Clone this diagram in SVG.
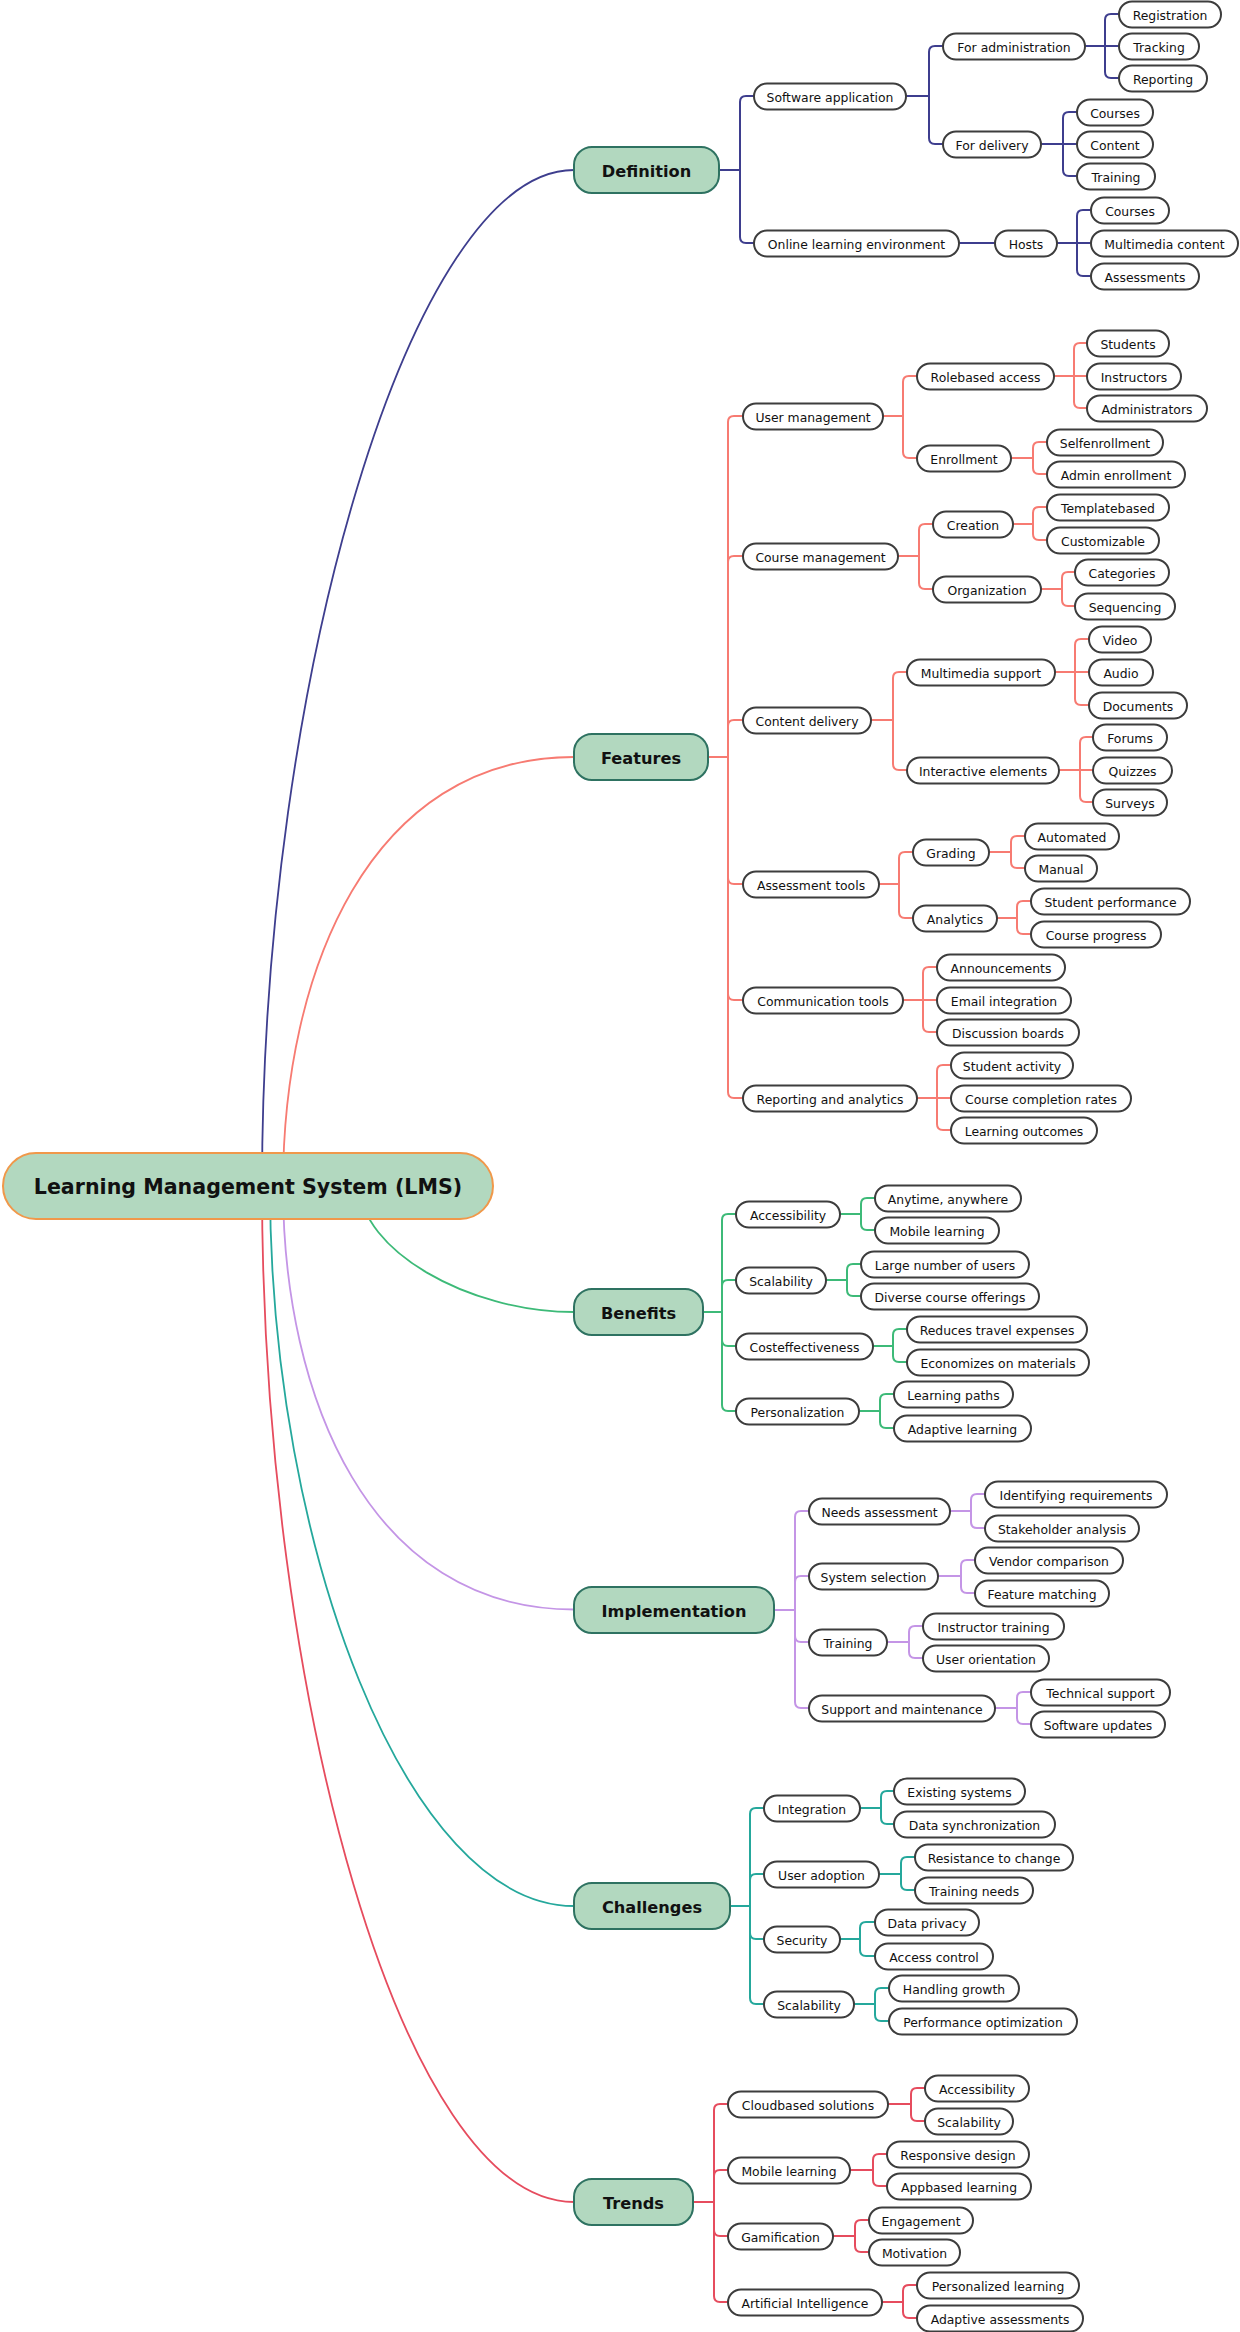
<svg xmlns="http://www.w3.org/2000/svg" width="1240" height="2332" viewBox="0 0 1240 2332">
<style>
  .leaf rect{fill:#ffffff;stroke:#3d3d3d;stroke-width:2}
  .leaf text{font-family:"DejaVu Sans",sans-serif;font-size:12.4px;fill:#111;text-anchor:middle;transform:translateY(1px)}
  .main rect{fill:#b2d8bf;stroke:#2e7261;stroke-width:2}
  .main text{font-family:"DejaVu Sans",sans-serif;font-weight:bold;font-size:16.2px;fill:#111;text-anchor:middle}
  .root rect{fill:#b2d8bf;stroke:#f0984a;stroke-width:2}
  .root text{font-family:"DejaVu Sans",sans-serif;font-weight:bold;font-size:20.6px;fill:#111;text-anchor:middle}
  #connectors path{fill:none;stroke-width:2}
  #connectors .c-root path{stroke-width:1.8}
  .def{stroke:#3e3e8e}
  .feat{stroke:#f77b72}
  .ben{stroke:#3dba78}
  .impl{stroke:#c495e6}
  .chal{stroke:#25a89c}
  .trend{stroke:#e64c5e}
</style>
<rect width="1240" height="2332" fill="#ffffff"/>
<g id="connectors">
  <g class="c-root">
    <path class="def" d="M262 1186 C262 678 412 170 574 170"/>
    <path class="feat" d="M283 1186 C283 971.5 370 757 574 757"/>
    <path class="ben" d="M360 1186 C360 1249 467 1312 574 1312"/>
    <path class="impl" d="M283 1186 C283 1397.75 370 1609.5 574 1609.5"/>
    <path class="chal" d="M270 1186 C270 1546 407 1906 574 1906"/>
    <path class="trend" d="M262 1186 C262 1694 402 2202 574 2202"/>
  </g>
  <g class="def">
    <path d="M719 170 H740 V102 Q740 96 746 96 H754"/>
    <path d="M719 170 H740 V237 Q740 243 746 243 H754"/>
    <path d="M906 96 H929 V52 Q929 46 935 46 H943"/>
    <path d="M906 96 H929 V138 Q929 144 935 144 H943"/>
    <path d="M1085 46 H1105 V20 Q1105 14 1111 14 H1119"/>
    <path d="M1085 46 H1119"/>
    <path d="M1085 46 H1105 V72 Q1105 78 1111 78 H1119"/>
    <path d="M1041 144 H1063 V118 Q1063 112 1069 112 H1077"/>
    <path d="M1041 144 H1077"/>
    <path d="M1041 144 H1063 V170 Q1063 176 1069 176 H1077"/>
    <path d="M959 243 H995"/>
    <path d="M1057 243 H1077 V216 Q1077 210 1083 210 H1091"/>
    <path d="M1057 243 H1091"/>
    <path d="M1057 243 H1077 V270 Q1077 276 1083 276 H1091"/>
  </g>
  <g class="feat">
    <path d="M708 757 H728 V422 Q728 416 734 416 H743"/>
    <path d="M708 757 H728 V562 Q728 556 734 556 H743"/>
    <path d="M708 757 H728 V726 Q728 720 734 720 H743"/>
    <path d="M708 757 H728 V878 Q728 884 734 884 H743"/>
    <path d="M708 757 H728 V994 Q728 1000 734 1000 H743"/>
    <path d="M708 757 H728 V1092 Q728 1098 734 1098 H743"/>
    <path d="M883 416 H903 V382 Q903 376 909 376 H917"/>
    <path d="M883 416 H903 V452 Q903 458 909 458 H917"/>
    <path d="M1054 376 H1074 V349 Q1074 343 1080 343 H1087"/>
    <path d="M1054 376 H1087"/>
    <path d="M1054 376 H1074 V402 Q1074 408 1080 408 H1087"/>
    <path d="M1011 458 H1033 V448 Q1033 442 1039 442 H1047"/>
    <path d="M1011 458 H1033 V468 Q1033 474 1039 474 H1047"/>
    <path d="M898 556 H919 V530 Q919 524 925 524 H933"/>
    <path d="M898 556 H919 V583 Q919 589 925 589 H933"/>
    <path d="M1013 524 H1033 V513 Q1033 507 1039 507 H1047"/>
    <path d="M1013 524 H1033 V534 Q1033 540 1039 540 H1047"/>
    <path d="M1041 589 H1062 V578 Q1062 572 1068 572 H1075"/>
    <path d="M1041 589 H1062 V600 Q1062 606 1068 606 H1075"/>
    <path d="M871 720 H893 V678 Q893 672 899 672 H907"/>
    <path d="M871 720 H893 V764 Q893 770 899 770 H907"/>
    <path d="M1055 672 H1075 V645 Q1075 639 1081 639 H1089"/>
    <path d="M1055 672 H1089"/>
    <path d="M1055 672 H1075 V699 Q1075 705 1081 705 H1089"/>
    <path d="M1059 770 H1080 V743 Q1080 737 1086 737 H1093"/>
    <path d="M1059 770 H1093"/>
    <path d="M1059 770 H1080 V796 Q1080 802 1086 802 H1093"/>
    <path d="M879 884 H899 V858 Q899 852 905 852 H913"/>
    <path d="M879 884 H899 V912 Q899 918 905 918 H913"/>
    <path d="M989 852 H1011 V842 Q1011 836 1017 836 H1025"/>
    <path d="M989 852 H1011 V862 Q1011 868 1017 868 H1025"/>
    <path d="M997 918 H1017 V907 Q1017 901 1023 901 H1031"/>
    <path d="M997 918 H1017 V928 Q1017 934 1023 934 H1031"/>
    <path d="M903 1000 H923 V973 Q923 967 929 967 H937"/>
    <path d="M903 1000 H937"/>
    <path d="M903 1000 H923 V1026 Q923 1032 929 1032 H937"/>
    <path d="M917 1098 H937 V1071 Q937 1065 943 1065 H951"/>
    <path d="M917 1098 H951"/>
    <path d="M917 1098 H937 V1124 Q937 1130 943 1130 H951"/>
  </g>
  <g class="ben">
    <path d="M703 1312 H722 V1220 Q722 1214 728 1214 H736"/>
    <path d="M703 1312 H722 V1286 Q722 1280 728 1280 H736"/>
    <path d="M703 1312 H722 V1340 Q722 1346 728 1346 H736"/>
    <path d="M703 1312 H722 V1405 Q722 1411 728 1411 H736"/>
    <path d="M840 1214 H861 V1204 Q861 1198 867 1198 H875"/>
    <path d="M840 1214 H861 V1224 Q861 1230 867 1230 H875"/>
    <path d="M826 1280 H847 V1270 Q847 1264 853 1264 H861"/>
    <path d="M826 1280 H847 V1290 Q847 1296 853 1296 H861"/>
    <path d="M873 1346 H893 V1335 Q893 1329 899 1329 H907"/>
    <path d="M873 1346 H893 V1356 Q893 1362 899 1362 H907"/>
    <path d="M859 1411 H880 V1400 Q880 1394 886 1394 H894"/>
    <path d="M859 1411 H880 V1422 Q880 1428 886 1428 H894"/>
  </g>
  <g class="impl">
    <path d="M774 1610 H795 V1517 Q795 1511 801 1511 H809"/>
    <path d="M774 1610 H795 V1582 Q795 1576 801 1576 H809"/>
    <path d="M774 1610 H795 V1636 Q795 1642 801 1642 H809"/>
    <path d="M774 1610 H795 V1702 Q795 1708 801 1708 H809"/>
    <path d="M950 1511 H971 V1500 Q971 1494 977 1494 H985"/>
    <path d="M950 1511 H971 V1522 Q971 1528 977 1528 H985"/>
    <path d="M938 1576 H961 V1566 Q961 1560 967 1560 H975"/>
    <path d="M938 1576 H961 V1587 Q961 1593 967 1593 H975"/>
    <path d="M887 1642 H909 V1632 Q909 1626 915 1626 H923"/>
    <path d="M887 1642 H909 V1652 Q909 1658 915 1658 H923"/>
    <path d="M995 1708 H1017 V1698 Q1017 1692 1023 1692 H1031"/>
    <path d="M995 1708 H1017 V1718 Q1017 1724 1023 1724 H1031"/>
  </g>
  <g class="chal">
    <path d="M730 1906 H750 V1814 Q750 1808 756 1808 H764"/>
    <path d="M730 1906 H750 V1880 Q750 1874 756 1874 H764"/>
    <path d="M730 1906 H750 V1933 Q750 1939 756 1939 H764"/>
    <path d="M730 1906 H750 V1998 Q750 2004 756 2004 H764"/>
    <path d="M860 1808 H881 V1797 Q881 1791 887 1791 H894"/>
    <path d="M860 1808 H881 V1818 Q881 1824 887 1824 H894"/>
    <path d="M879 1874 H901 V1863 Q901 1857 907 1857 H915"/>
    <path d="M879 1874 H901 V1884 Q901 1890 907 1890 H915"/>
    <path d="M840 1939 H860 V1928 Q860 1922 866 1922 H875"/>
    <path d="M840 1939 H860 V1950 Q860 1956 866 1956 H875"/>
    <path d="M854 2004 H875 V1994 Q875 1988 881 1988 H889"/>
    <path d="M854 2004 H875 V2015 Q875 2021 881 2021 H889"/>
  </g>
  <g class="trend">
    <path d="M693 2202 H714 V2110 Q714 2104 720 2104 H728"/>
    <path d="M693 2202 H714 V2176 Q714 2170 720 2170 H728"/>
    <path d="M693 2202 H714 V2230 Q714 2236 720 2236 H728"/>
    <path d="M693 2202 H714 V2296 Q714 2302 720 2302 H728"/>
    <path d="M888 2104 H911 V2094 Q911 2088 917 2088 H925"/>
    <path d="M888 2104 H911 V2115 Q911 2121 917 2121 H925"/>
    <path d="M850 2170 H873 V2160 Q873 2154 879 2154 H887"/>
    <path d="M850 2170 H873 V2180 Q873 2186 879 2186 H887"/>
    <path d="M833 2236 H855 V2226 Q855 2220 861 2220 H869"/>
    <path d="M833 2236 H855 V2246 Q855 2252 861 2252 H869"/>
    <path d="M882 2302 H903 V2291 Q903 2285 909 2285 H917"/>
    <path d="M882 2302 H903 V2312 Q903 2318 909 2318 H917"/>
  </g>
</g>

<g id="root" class="root"><rect x="3" y="1153" width="490" height="66" rx="33"/><text x="248" y="1193.5">Learning Management System (LMS)</text></g>

<g id="definition" class="main"><rect x="574" y="147" width="145" height="46" rx="18"/><text x="646.5" y="177">Definition</text></g>
<g id="features" class="main"><rect x="574" y="734" width="134" height="46" rx="18"/><text x="641" y="764">Features</text></g>
<g id="benefits" class="main"><rect x="574" y="1289" width="129" height="46" rx="18"/><text x="638.5" y="1319">Benefits</text></g>
<g id="implementation" class="main"><rect x="574" y="1587" width="200" height="46" rx="18"/><text x="674" y="1617">Implementation</text></g>
<g id="challenges" class="main"><rect x="574" y="1883" width="156" height="46" rx="18"/><text x="652" y="1913">Challenges</text></g>
<g id="trends" class="main"><rect x="574" y="2179" width="119" height="46" rx="18"/><text x="633.5" y="2209">Trends</text></g>

<g id="def-software-application" class="leaf"><rect x="754" y="83.5" width="152" height="26" rx="13"/><text x="830" y="101">Software application</text></g>
<g id="def-online-learning-environment" class="leaf"><rect x="754" y="230.5" width="205" height="26" rx="13"/><text x="856.5" y="248">Online learning environment</text></g>
<g id="def-for-administration" class="leaf"><rect x="943" y="33.5" width="142" height="26" rx="13"/><text x="1014" y="51">For administration</text></g>
<g id="def-for-delivery" class="leaf"><rect x="943" y="131.5" width="98" height="26" rx="13"/><text x="992" y="149">For delivery</text></g>
<g id="def-registration" class="leaf"><rect x="1119" y="1.5" width="102" height="26" rx="13"/><text x="1170" y="19">Registration</text></g>
<g id="def-tracking" class="leaf"><rect x="1119" y="33.5" width="80" height="26" rx="13"/><text x="1159" y="51">Tracking</text></g>
<g id="def-reporting" class="leaf"><rect x="1119" y="65.5" width="88" height="26" rx="13"/><text x="1163" y="83">Reporting</text></g>
<g id="def-courses-1" class="leaf"><rect x="1077" y="99.5" width="76" height="26" rx="13"/><text x="1115" y="117">Courses</text></g>
<g id="def-content" class="leaf"><rect x="1077" y="131.5" width="76" height="26" rx="13"/><text x="1115" y="149">Content</text></g>
<g id="def-training" class="leaf"><rect x="1077" y="163.5" width="78" height="26" rx="13"/><text x="1116" y="181">Training</text></g>
<g id="def-hosts" class="leaf"><rect x="995" y="230.5" width="62" height="26" rx="13"/><text x="1026" y="248">Hosts</text></g>
<g id="def-courses-2" class="leaf"><rect x="1091" y="197.5" width="78" height="26" rx="13"/><text x="1130" y="215">Courses</text></g>
<g id="def-multimedia-content" class="leaf"><rect x="1091" y="230.5" width="147" height="26" rx="13"/><text x="1164.5" y="248">Multimedia content</text></g>
<g id="def-assessments" class="leaf"><rect x="1091" y="263.5" width="108" height="26" rx="13"/><text x="1145" y="281">Assessments</text></g>

<g id="feat-user-management" class="leaf"><rect x="743" y="403.5" width="140" height="26" rx="13"/><text x="813" y="421">User management</text></g>
<g id="feat-course-management" class="leaf"><rect x="743" y="543.5" width="155" height="26" rx="13"/><text x="820.5" y="561">Course management</text></g>
<g id="feat-content-delivery" class="leaf"><rect x="743" y="707.5" width="128" height="26" rx="13"/><text x="807" y="725">Content delivery</text></g>
<g id="feat-assessment-tools" class="leaf"><rect x="743" y="871.5" width="136" height="26" rx="13"/><text x="811" y="889">Assessment tools</text></g>
<g id="feat-communication-tools" class="leaf"><rect x="743" y="987.5" width="160" height="26" rx="13"/><text x="823" y="1005">Communication tools</text></g>
<g id="feat-reporting-and-analytics" class="leaf"><rect x="743" y="1085.5" width="174" height="26" rx="13"/><text x="830" y="1103">Reporting and analytics</text></g>
<g id="feat-rolebased-access" class="leaf"><rect x="917" y="363.5" width="137" height="26" rx="13"/><text x="985.5" y="381">Rolebased access</text></g>
<g id="feat-enrollment" class="leaf"><rect x="917" y="445.5" width="94" height="26" rx="13"/><text x="964" y="463">Enrollment</text></g>
<g id="feat-students" class="leaf"><rect x="1087" y="330.5" width="82" height="26" rx="13"/><text x="1128" y="348">Students</text></g>
<g id="feat-instructors" class="leaf"><rect x="1087" y="363.5" width="94" height="26" rx="13"/><text x="1134" y="381">Instructors</text></g>
<g id="feat-administrators" class="leaf"><rect x="1087" y="395.5" width="120" height="26" rx="13"/><text x="1147" y="413">Administrators</text></g>
<g id="feat-selfenrollment" class="leaf"><rect x="1047" y="429.5" width="116" height="26" rx="13"/><text x="1105" y="447">Selfenrollment</text></g>
<g id="feat-admin-enrollment" class="leaf"><rect x="1047" y="461.5" width="138" height="26" rx="13"/><text x="1116" y="479">Admin enrollment</text></g>
<g id="feat-creation" class="leaf"><rect x="933" y="511.5" width="80" height="26" rx="13"/><text x="973" y="529">Creation</text></g>
<g id="feat-organization" class="leaf"><rect x="933" y="576.5" width="108" height="26" rx="13"/><text x="987" y="594">Organization</text></g>
<g id="feat-templatebased" class="leaf"><rect x="1047" y="494.5" width="122" height="26" rx="13"/><text x="1108" y="512">Templatebased</text></g>
<g id="feat-customizable" class="leaf"><rect x="1047" y="527.5" width="112" height="26" rx="13"/><text x="1103" y="545">Customizable</text></g>
<g id="feat-categories" class="leaf"><rect x="1075" y="559.5" width="94" height="26" rx="13"/><text x="1122" y="577">Categories</text></g>
<g id="feat-sequencing" class="leaf"><rect x="1075" y="593.5" width="100" height="26" rx="13"/><text x="1125" y="611">Sequencing</text></g>
<g id="feat-multimedia-support" class="leaf"><rect x="907" y="659.5" width="148" height="26" rx="13"/><text x="981" y="677">Multimedia support</text></g>
<g id="feat-interactive-elements" class="leaf"><rect x="907" y="757.5" width="152" height="26" rx="13"/><text x="983" y="775">Interactive elements</text></g>
<g id="feat-video" class="leaf"><rect x="1089" y="626.5" width="62" height="26" rx="13"/><text x="1120" y="644">Video</text></g>
<g id="feat-audio" class="leaf"><rect x="1089" y="659.5" width="64" height="26" rx="13"/><text x="1121" y="677">Audio</text></g>
<g id="feat-documents" class="leaf"><rect x="1089" y="692.5" width="98" height="26" rx="13"/><text x="1138" y="710">Documents</text></g>
<g id="feat-forums" class="leaf"><rect x="1093" y="724.5" width="74" height="26" rx="13"/><text x="1130" y="742">Forums</text></g>
<g id="feat-quizzes" class="leaf"><rect x="1093" y="757.5" width="79" height="26" rx="13"/><text x="1132.5" y="775">Quizzes</text></g>
<g id="feat-surveys" class="leaf"><rect x="1093" y="789.5" width="74" height="26" rx="13"/><text x="1130" y="807">Surveys</text></g>
<g id="feat-grading" class="leaf"><rect x="913" y="839.5" width="76" height="26" rx="13"/><text x="951" y="857">Grading</text></g>
<g id="feat-analytics" class="leaf"><rect x="913" y="905.5" width="84" height="26" rx="13"/><text x="955" y="923">Analytics</text></g>
<g id="feat-automated" class="leaf"><rect x="1025" y="823.5" width="94" height="26" rx="13"/><text x="1072" y="841">Automated</text></g>
<g id="feat-manual" class="leaf"><rect x="1025" y="855.5" width="72" height="26" rx="13"/><text x="1061" y="873">Manual</text></g>
<g id="feat-student-performance" class="leaf"><rect x="1031" y="888.5" width="159" height="26" rx="13"/><text x="1110.5" y="906">Student performance</text></g>
<g id="feat-course-progress" class="leaf"><rect x="1031" y="921.5" width="130" height="26" rx="13"/><text x="1096" y="939">Course progress</text></g>
<g id="feat-announcements" class="leaf"><rect x="937" y="954.5" width="128" height="26" rx="13"/><text x="1001" y="972">Announcements</text></g>
<g id="feat-email-integration" class="leaf"><rect x="937" y="987.5" width="134" height="26" rx="13"/><text x="1004" y="1005">Email integration</text></g>
<g id="feat-discussion-boards" class="leaf"><rect x="937" y="1019.5" width="142" height="26" rx="13"/><text x="1008" y="1037">Discussion boards</text></g>
<g id="feat-student-activity" class="leaf"><rect x="951" y="1052.5" width="122" height="26" rx="13"/><text x="1012" y="1070">Student activity</text></g>
<g id="feat-course-completion-rates" class="leaf"><rect x="951" y="1085.5" width="180" height="26" rx="13"/><text x="1041" y="1103">Course completion rates</text></g>
<g id="feat-learning-outcomes" class="leaf"><rect x="951" y="1117.5" width="146" height="26" rx="13"/><text x="1024" y="1135">Learning outcomes</text></g>

<g id="ben-accessibility" class="leaf"><rect x="736" y="1201.5" width="104" height="26" rx="13"/><text x="788" y="1219">Accessibility</text></g>
<g id="ben-scalability" class="leaf"><rect x="736" y="1267.5" width="90" height="26" rx="13"/><text x="781" y="1285">Scalability</text></g>
<g id="ben-costeffectiveness" class="leaf"><rect x="736" y="1333.5" width="137" height="26" rx="13"/><text x="804.5" y="1351">Costeffectiveness</text></g>
<g id="ben-personalization" class="leaf"><rect x="736" y="1398.5" width="123" height="26" rx="13"/><text x="797.5" y="1416">Personalization</text></g>
<g id="ben-anytime-anywhere" class="leaf"><rect x="875" y="1185.5" width="146" height="26" rx="13"/><text x="948" y="1203">Anytime, anywhere</text></g>
<g id="ben-mobile-learning" class="leaf"><rect x="875" y="1217.5" width="124" height="26" rx="13"/><text x="937" y="1235">Mobile learning</text></g>
<g id="ben-large-number-of-users" class="leaf"><rect x="861" y="1251.5" width="168" height="26" rx="13"/><text x="945" y="1269">Large number of users</text></g>
<g id="ben-diverse-course-offerings" class="leaf"><rect x="861" y="1283.5" width="178" height="26" rx="13"/><text x="950" y="1301">Diverse course offerings</text></g>
<g id="ben-reduces-travel-expenses" class="leaf"><rect x="907" y="1316.5" width="180" height="26" rx="13"/><text x="997" y="1334">Reduces travel expenses</text></g>
<g id="ben-economizes-on-materials" class="leaf"><rect x="907" y="1349.5" width="182" height="26" rx="13"/><text x="998" y="1367">Economizes on materials</text></g>
<g id="ben-learning-paths" class="leaf"><rect x="894" y="1381.5" width="119" height="26" rx="13"/><text x="953.5" y="1399">Learning paths</text></g>
<g id="ben-adaptive-learning" class="leaf"><rect x="894" y="1415.5" width="137" height="26" rx="13"/><text x="962.5" y="1433">Adaptive learning</text></g>

<g id="impl-needs-assessment" class="leaf"><rect x="809" y="1498.5" width="141" height="26" rx="13"/><text x="879.5" y="1516">Needs assessment</text></g>
<g id="impl-system-selection" class="leaf"><rect x="809" y="1563.5" width="129" height="26" rx="13"/><text x="873.5" y="1581">System selection</text></g>
<g id="impl-training" class="leaf"><rect x="809" y="1629.5" width="78" height="26" rx="13"/><text x="848" y="1647">Training</text></g>
<g id="impl-support-and-maintenance" class="leaf"><rect x="809" y="1695.5" width="186" height="26" rx="13"/><text x="902" y="1713">Support and maintenance</text></g>
<g id="impl-identifying-requirements" class="leaf"><rect x="985" y="1481.5" width="182" height="26" rx="13"/><text x="1076" y="1499">Identifying requirements</text></g>
<g id="impl-stakeholder-analysis" class="leaf"><rect x="985" y="1515.5" width="154" height="26" rx="13"/><text x="1062" y="1533">Stakeholder analysis</text></g>
<g id="impl-vendor-comparison" class="leaf"><rect x="975" y="1547.5" width="148" height="26" rx="13"/><text x="1049" y="1565">Vendor comparison</text></g>
<g id="impl-feature-matching" class="leaf"><rect x="975" y="1580.5" width="134" height="26" rx="13"/><text x="1042" y="1598">Feature matching</text></g>
<g id="impl-instructor-training" class="leaf"><rect x="923" y="1613.5" width="141" height="26" rx="13"/><text x="993.5" y="1631">Instructor training</text></g>
<g id="impl-user-orientation" class="leaf"><rect x="923" y="1645.5" width="126" height="26" rx="13"/><text x="986" y="1663">User orientation</text></g>
<g id="impl-technical-support" class="leaf"><rect x="1031" y="1679.5" width="139" height="26" rx="13"/><text x="1100.5" y="1697">Technical support</text></g>
<g id="impl-software-updates" class="leaf"><rect x="1031" y="1711.5" width="134" height="26" rx="13"/><text x="1098" y="1729">Software updates</text></g>

<g id="chal-integration" class="leaf"><rect x="764" y="1795.5" width="96" height="26" rx="13"/><text x="812" y="1813">Integration</text></g>
<g id="chal-user-adoption" class="leaf"><rect x="764" y="1861.5" width="115" height="26" rx="13"/><text x="821.5" y="1879">User adoption</text></g>
<g id="chal-security" class="leaf"><rect x="764" y="1926.5" width="76" height="26" rx="13"/><text x="802" y="1944">Security</text></g>
<g id="chal-scalability" class="leaf"><rect x="764" y="1991.5" width="90" height="26" rx="13"/><text x="809" y="2009">Scalability</text></g>
<g id="chal-existing-systems" class="leaf"><rect x="894" y="1778.5" width="131" height="26" rx="13"/><text x="959.5" y="1796">Existing systems</text></g>
<g id="chal-data-synchronization" class="leaf"><rect x="894" y="1811.5" width="161" height="26" rx="13"/><text x="974.5" y="1829">Data synchronization</text></g>
<g id="chal-resistance-to-change" class="leaf"><rect x="915" y="1844.5" width="158" height="26" rx="13"/><text x="994" y="1862">Resistance to change</text></g>
<g id="chal-training-needs" class="leaf"><rect x="915" y="1877.5" width="118" height="26" rx="13"/><text x="974" y="1895">Training needs</text></g>
<g id="chal-data-privacy" class="leaf"><rect x="875" y="1909.5" width="104" height="26" rx="13"/><text x="927" y="1927">Data privacy</text></g>
<g id="chal-access-control" class="leaf"><rect x="875" y="1943.5" width="118" height="26" rx="13"/><text x="934" y="1961">Access control</text></g>
<g id="chal-handling-growth" class="leaf"><rect x="889" y="1975.5" width="130" height="26" rx="13"/><text x="954" y="1993">Handling growth</text></g>
<g id="chal-performance-optimization" class="leaf"><rect x="889" y="2008.5" width="188" height="26" rx="13"/><text x="983" y="2026">Performance optimization</text></g>

<g id="trend-cloudbased-solutions" class="leaf"><rect x="728" y="2091.5" width="160" height="26" rx="13"/><text x="808" y="2109">Cloudbased solutions</text></g>
<g id="trend-mobile-learning" class="leaf"><rect x="728" y="2157.5" width="122" height="26" rx="13"/><text x="789" y="2175">Mobile learning</text></g>
<g id="trend-gamification" class="leaf"><rect x="728" y="2223.5" width="105" height="26" rx="13"/><text x="780.5" y="2241">Gamification</text></g>
<g id="trend-artificial-intelligence" class="leaf"><rect x="728" y="2289.5" width="154" height="26" rx="13"/><text x="805" y="2307">Artificial Intelligence</text></g>
<g id="trend-accessibility" class="leaf"><rect x="925" y="2075.5" width="104" height="26" rx="13"/><text x="977" y="2093">Accessibility</text></g>
<g id="trend-scalability" class="leaf"><rect x="925" y="2108.5" width="88" height="26" rx="13"/><text x="969" y="2126">Scalability</text></g>
<g id="trend-responsive-design" class="leaf"><rect x="887" y="2141.5" width="142" height="26" rx="13"/><text x="958" y="2159">Responsive design</text></g>
<g id="trend-appbased-learning" class="leaf"><rect x="887" y="2173.5" width="144" height="26" rx="13"/><text x="959" y="2191">Appbased learning</text></g>
<g id="trend-engagement" class="leaf"><rect x="869" y="2207.5" width="104" height="26" rx="13"/><text x="921" y="2225">Engagement</text></g>
<g id="trend-motivation" class="leaf"><rect x="869" y="2239.5" width="91" height="26" rx="13"/><text x="914.5" y="2257">Motivation</text></g>
<g id="trend-personalized-learning" class="leaf"><rect x="917" y="2272.5" width="162" height="26" rx="13"/><text x="998" y="2290">Personalized learning</text></g>
<g id="trend-adaptive-assessments" class="leaf"><rect x="917" y="2305.5" width="166" height="26" rx="13"/><text x="1000" y="2323">Adaptive assessments</text></g>
</svg>
